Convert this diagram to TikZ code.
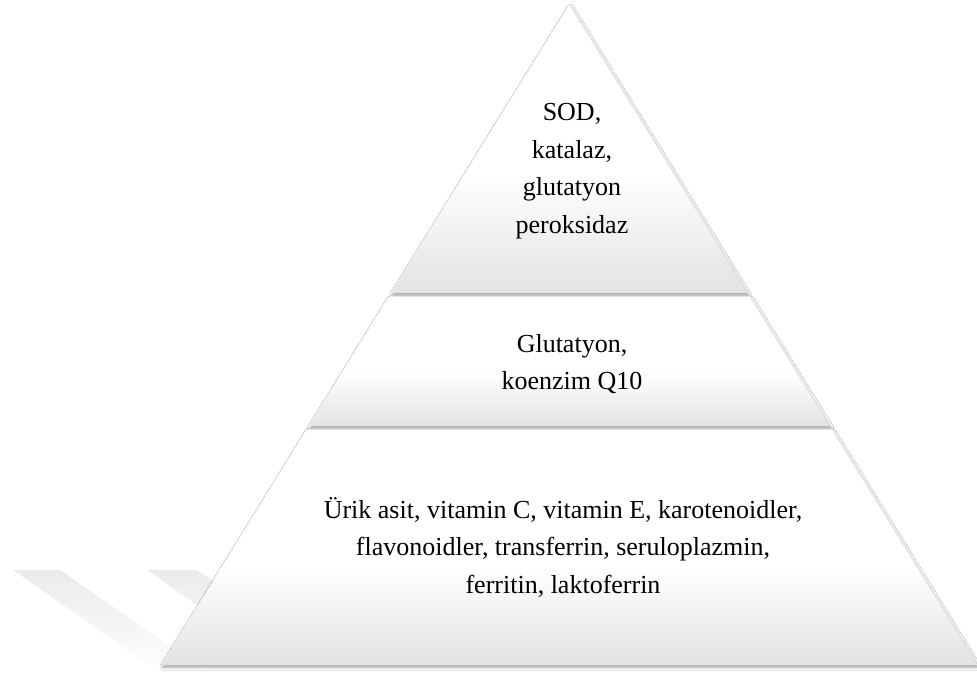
\documentclass[tikz,border=0pt]{standalone}
\usepackage{fontspec}
\setmainfont{Liberation Serif}
\usetikzlibrary{shadows.blur}
\pgfdeclareverticalshading{bandshade}{100bp}{color(0bp)=(black!11); color(25bp)=(black!11); color(46bp)=(white); color(100bp)=(white)}
\pgfdeclareverticalshading{wmshade}{100bp}{color(0bp)=(white); color(25bp)=(white); color(75bp)=(black!8); color(100bp)=(black!8)}
\begin{document}
\begin{tikzpicture}[x=1pt,y=1pt,
  band/.style={shade, shading=bandshade,
    blur shadow={shadow xshift=1pt, shadow yshift=-2pt, shadow blur radius=3pt, shadow opacity=40}},
  wmark/.style={shade, shading=wmshade, draw=none},
  lbl/.style={align=center, font=\fontsize{26}{37.5}\selectfont, inner sep=0pt, text=black}]
\useasboundingbox (0,0) rectangle (977,675);
\fill[white] (0,0) rectangle (977,675);
% faint watermark bands
\path[wmark] (13,105) -- (60,105) -- (211,0) -- (164,0) -- cycle;
\path[wmark] (147,105) -- (197,105) -- (348,0) -- (298,0) -- cycle;
% pyramid bands
\path[band] (569.5,670) -- (747.5,382) -- (391.5,382) -- cycle;
\path[band] (389,378) -- (750,378) -- (829.7,249) -- (309.3,249) -- cycle;
\path[band] (306.8,245) -- (832.2,245) -- (977.4,10) -- (161.6,10) -- cycle;
% labels
\node[lbl] (top) at (572,504) {SOD,\\katalaz,\\glutatyon\\peroksidaz};
\node[lbl] (mid) at (572,311) {Glutatyon,\\koenzim Q10};
\node[lbl] (bot) at (563,128) {Ürik asit, vitamin C, vitamin E, karotenoidler,\\flavonoidler, transferrin, seruloplazmin,\\ferritin, laktoferrin};
\end{tikzpicture}
\end{document}
